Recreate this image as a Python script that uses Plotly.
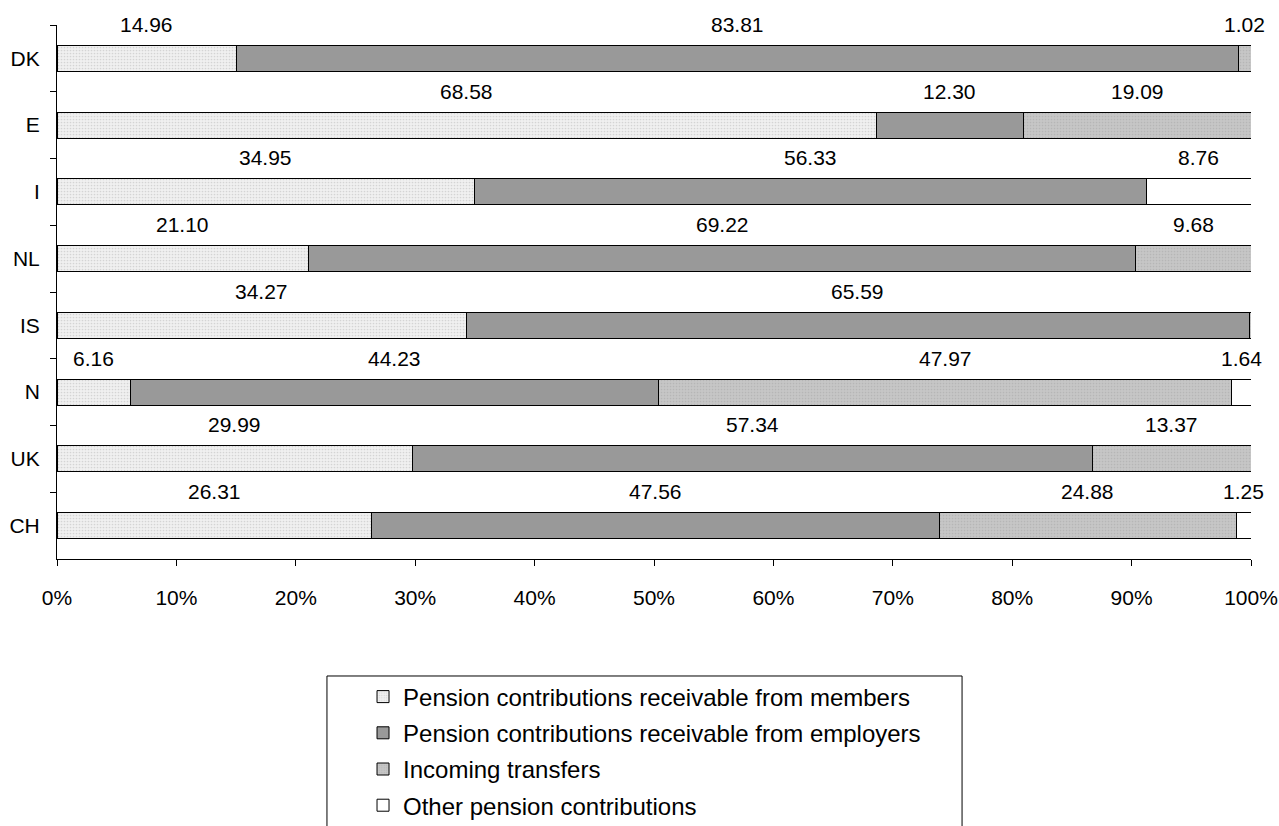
import plotly.graph_objects as go

countries = ["DK", "E", "I", "NL", "IS", "N", "UK", "CH"]
members = [14.96, 68.58, 34.95, 21.10, 34.27, 6.16, 29.99, 26.31]
employers = [83.81, 12.30, 56.33, 69.22, 65.59, 44.23, 57.34, 47.56]
transfers = [1.02, 19.09, 0.0, 9.68, 0.14, 47.97, 13.37, 24.88]
other = [0.0, 0.0, 8.76, 0.0, 0.0, 1.64, 0.0, 1.25]
series_names = [
    "Pension contributions receivable from members",
    "Pension contributions receivable from employers",
    "Incoming transfers",
    "Other pension contributions",
]
x_ticks = [0, 10, 20, 30, 40, 50, 60, 70, 80, 90, 100]
x_tick_labels = [f"{v}%" for v in x_ticks]

FONT = "Liberation Sans, Arial, sans-serif"
FS = 21
LFS = 24
series = [members, employers, transfers, other]
styles = [
    dict(color="#ececec", pattern=dict(shape=".", fgcolor="#b8b8b8", bgcolor="#f0f0f0", size=3, solidity=0.25)),
    dict(color="#999999"),
    dict(color="#c2c2c2", pattern=dict(shape=".", fgcolor="#a6a6a6", bgcolor="#c6c6c6", size=3, solidity=0.25)),
    dict(color="#ffffff"),
]

fig = go.Figure()
for k, (name, vals, st) in enumerate(zip(series_names, series, styles)):
    fig.add_trace(go.Bar(
        y=countries, x=vals, name=name, orientation="h", legendgroup=f"g{k}",
        marker=dict(**st, line=dict(color="#000000", width=1)),
        hoverinfo="x+y+name",
    ))

# value labels centred over each segment (positions in normalised percent)
annotations = []
for i, c in enumerate(countries):
    row = [s[i] for s in series]
    total = sum(row)
    cum = 0.0
    for v in row:
        if v >= 0.5:
            annotations.append(dict(
                x=(cum + v / 2) / total * 100, y=c, xref="x", yref="y",
                text=f"{v:.2f}", showarrow=False, yshift=34,
                font=dict(family=FONT, size=FS, color="#000000"),
                xanchor="center", yanchor="middle",
            ))
        cum += v

fig.update_layout(
    barmode="stack", barnorm="percent", bargap=0.61,
    width=1279, height=826,
    margin=dict(l=57, r=28, t=25, b=267, autoexpand=False),
    plot_bgcolor="#ffffff", paper_bgcolor="#ffffff",
    font=dict(family=FONT, size=FS, color="#000000"),
    annotations=annotations,
    shapes=[dict(type="rect", xref="paper", yref="paper",
                 x0=0.2261, x1=0.758, y0=-0.2191, y1=-0.75,
                 line=dict(color="#000000", width=1), fillcolor="rgba(0,0,0,0)")],
    showlegend=True,
    legend=dict(
        x=0.2563, xanchor="left", y=-0.2163, yanchor="top",
        borderwidth=0, bgcolor="rgba(0,0,0,0)",
        font=dict(family=FONT, size=LFS), traceorder="grouped",
        tracegroupgap=2, itemwidth=30,
    ),
    xaxis=dict(
        range=[0, 100], tickmode="array", tickvals=x_ticks, ticktext=x_tick_labels,
        showgrid=False, zeroline=False, showline=True, linecolor="#000000", linewidth=1,
        ticks="outside", ticklen=6, tickcolor="#000000", ticklabelstandoff=14,
        tickfont=dict(family=FONT, size=FS), automargin=False,
    ),
    yaxis=dict(
        categoryorder="array", categoryarray=countries,
        range=[7.5, -0.5], tickson="boundaries",
        showgrid=False, zeroline=False, showline=True, linecolor="#000000", linewidth=1,
        ticks="outside", ticklen=6, tickcolor="#000000", ticklabelstandoff=12,
        tickfont=dict(family=FONT, size=FS), automargin=False,
    ),
)

fig.write_html("out.html")
